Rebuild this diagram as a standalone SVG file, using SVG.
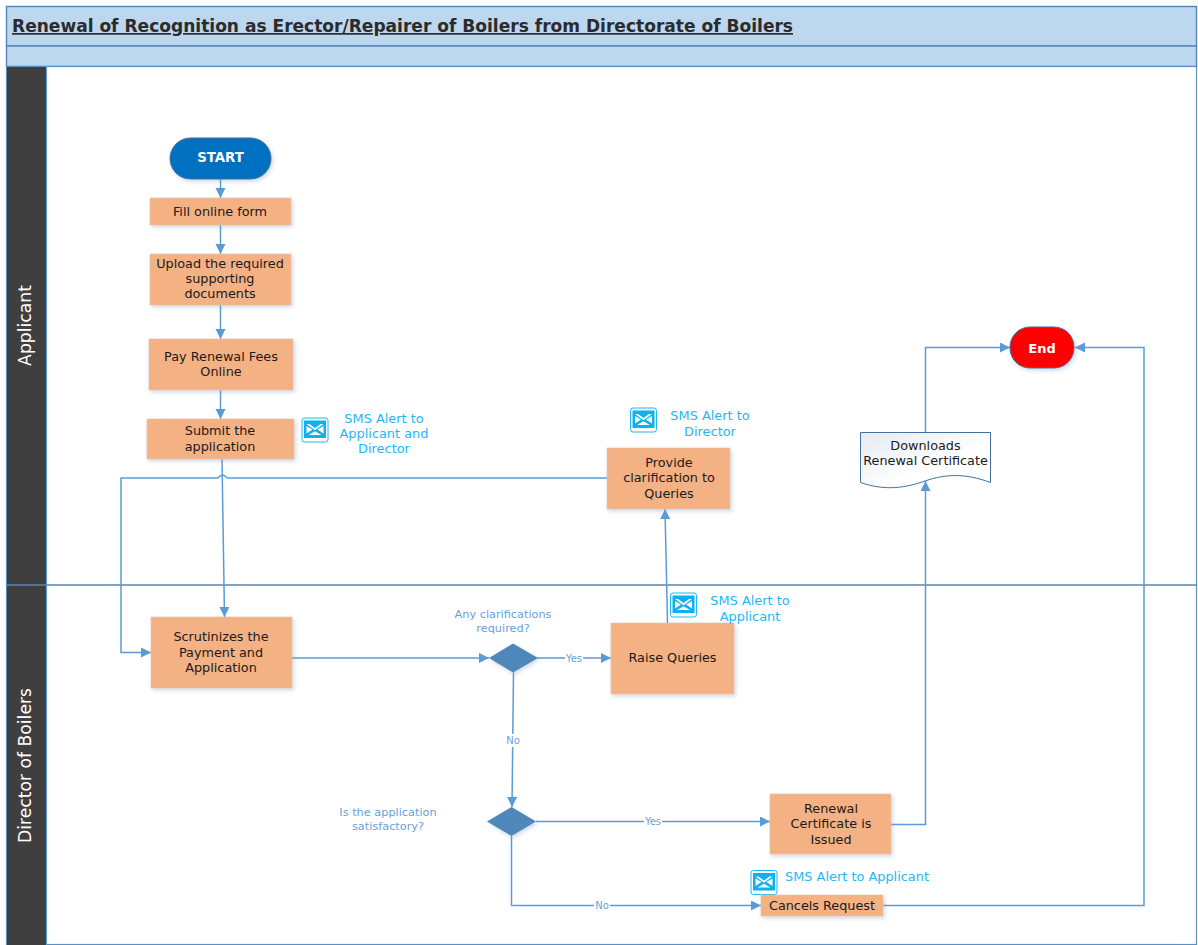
<svg xmlns="http://www.w3.org/2000/svg" width="1198" height="945" viewBox="0 0 1198 945">
<style>
text{font-family:"DejaVu Sans","Liberation Sans",sans-serif}
.t{font-size:12.8px;fill:#1a1a1a;text-anchor:middle}
.s{font-size:12.9px;fill:#1fb6f5;text-anchor:middle}
.q{font-size:11.3px;fill:#6a9fd8;text-anchor:middle}
.l{font-size:10px;fill:#6a9fd8;text-anchor:middle}
.b{fill:#f4b183;filter:url(#sh);stroke:#e8c4a8;stroke-width:.6}
.c{fill:none;stroke:#5b9bd5;stroke-width:1.5;marker-end:url(#a)}
.d{fill:#4f87bb;filter:url(#sh)}
.lane{fill:#fff;font-size:17.200px;text-anchor:middle}
</style>
<defs>
<marker id="a" markerUnits="userSpaceOnUse" markerWidth="11" markerHeight="11" refX="10" refY="5" orient="auto"><path d="M0 0L10 5L0 10Z" fill="#5b9bd5"/></marker>
<filter id="sh" x="-15%" y="-15%" width="135%" height="140%"><feDropShadow dx="1.500" dy="2" stdDeviation="2" flood-color="#7f9fc4" flood-opacity=".4"/></filter>
<linearGradient id="doc" x1="0" y1="0" x2="1" y2="1"><stop offset="0" stop-color="#e6e9ef"/><stop offset=".6" stop-color="#fff"/></linearGradient>
<g id="mail"><rect x="0.500" y="0.500" width="26" height="24" rx="2.500" fill="#fff" stroke="#1fb6f5"/><rect x="2.500" y="3" width="22" height="17.500" fill="#0fb0ee"/><path d="M5 6.500H8L13.500 10.500L19 6.500H22L13.500 12.800ZM5 8.500L11 12L5 16ZM22 8.500L16 12L22 16ZM7 17.500L13.500 13.800L20 17.500Z" fill="#fff"/></g>
</defs>
<rect width="1198" height="945" fill="#fff"/>
<g id="frame">
<rect x="6.500" y="6.500" width="1190" height="39.500" fill="#bdd7ee" stroke="#5686b5" stroke-width="1.400"/>
<rect x="6.500" y="46" width="1190" height="20.500" fill="#bdd7ee" stroke="#5686b5" stroke-width="1.400"/>
<rect x="6.500" y="66.500" width="1190" height="878" fill="#fff" stroke="#5b8fc2" stroke-width="1.200"/>
<rect x="7" y="67" width="39.500" height="878" fill="#3f3f3f"/>
<line x1="46.500" y1="66" x2="46.500" y2="945" stroke="#5b9bd5" stroke-width="1.200"/>
<line x1="7" y1="585" x2="1197" y2="585" stroke="#5d83ac" stroke-width="1.500"/>
<text x="12" y="32" font-size="17px" font-weight="700" fill="#2b2b2b" text-decoration="underline" textLength="781" lengthAdjust="spacingAndGlyphs">Renewal of Recognition as Erector/Repairer of Boilers from Directorate of Boilers</text>
<text class="lane" transform="translate(31 325.500) rotate(-90)">Applicant</text>
<text class="lane" transform="translate(31 765.500) rotate(-90)">Director of Boilers</text>
</g>
<g id="connectors">
<path class="c" d="M220.500 179V198"/>
<path class="c" d="M220.500 225V254"/>
<path class="c" d="M220.500 305V339"/>
<path class="c" d="M220.500 390V419"/>
<path class="c" d="M222 459L224.500 617"/>
<path class="c" d="M607 478H228C226 478 225.500 475 222.500 475C219.500 475 219 478 217 478H121V652.500H151"/>
<path class="c" d="M292 658H489"/>
<path class="c" d="M537 658H611"/>
<path class="c" d="M513.500 672.500L512 807"/>
<path class="c" d="M536 821.500H770"/>
<path class="c" d="M511.500 836V905.500H761"/>
<path class="c" d="M667.500 623L665 509"/>
<path class="c" d="M891 824.500H925.500V481"/>
<path class="c" d="M925.500 432V347.500H1010"/>
<path class="c" d="M883 905.500H1144V347.500H1075"/>
</g>
<g id="edge-labels">
<rect x="565" y="652" width="18" height="12" fill="#fff"/><text class="l" x="574" y="662">Yes</text>
<rect x="505" y="734" width="16" height="13" fill="#fff"/><text class="l" x="513" y="744">No</text>
<rect x="644" y="816" width="18" height="12" fill="#fff"/><text class="l" x="653" y="825">Yes</text>
<rect x="594" y="899" width="16" height="12" fill="#fff"/><text class="l" x="602" y="909">No</text>
</g>
<g id="start"><rect x="170" y="138" width="101" height="41" rx="20.500" fill="#0070c0" stroke="#41719c" filter="url(#sh)"/><text x="220.500" y="162" font-size="13.300px" font-weight="700" fill="#fff" text-anchor="middle">START</text></g>
<g id="fill-form"><rect class="b" x="150" y="198" width="141" height="27"/><text class="t" x="220" y="216">Fill online form</text></g>
<g id="upload"><rect class="b" x="150" y="254" width="141" height="51"/><text class="t" x="220" y="268">Upload the required</text><text class="t" x="220" y="283">supporting</text><text class="t" x="220" y="298">documents</text></g>
<g id="pay"><rect class="b" x="149" y="339" width="144" height="51"/><text class="t" x="221" y="361">Pay Renewal Fees</text><text class="t" x="221" y="376">Online</text></g>
<g id="submit"><rect class="b" x="147" y="419" width="147" height="40"/><text class="t" x="220" y="435">Submit the</text><text class="t" x="220" y="451">application</text></g>
<g id="sms1"><use href="#mail" x="301.500" y="417.500"/><text class="s" x="384" y="423">SMS Alert to</text><text class="s" x="384" y="438">Applicant and</text><text class="s" x="384" y="453">Director</text></g>
<g id="clarify"><rect class="b" x="607" y="448" width="123" height="61"/><text class="t" x="669" y="467">Provide</text><text class="t" x="669" y="482">clarification to</text><text class="t" x="669" y="498">Queries</text></g>
<g id="sms2"><use href="#mail" x="630" y="407.500"/><text class="s" x="710" y="420">SMS Alert to</text><text class="s" x="710" y="436">Director</text></g>
<g id="download"><path d="M860.500 432.500H990.500V482.500C965 473 945 474 925 481C905 488 885 491 860.500 482.500Z" fill="url(#doc)" stroke="#41719c" stroke-width="1"/><text class="t" x="925.500" y="450">Downloads</text><text class="t" x="925.500" y="465">Renewal Certificate</text></g>
<g id="end"><rect x="1010" y="327" width="64" height="41" rx="20" fill="#ff0000" stroke="#41719c" filter="url(#sh)"/><text x="1042" y="353" font-size="13px" font-weight="700" fill="#fff" text-anchor="middle">End</text></g>
<g id="scrutinize"><rect class="b" x="151" y="617" width="141" height="71"/><text class="t" x="221" y="641">Scrutinizes the</text><text class="t" x="221" y="657">Payment and</text><text class="t" x="221" y="672">Application</text></g>
<g id="q1"><polygon class="d" points="513,643.500 538,658 513,672.500 489,658"/><text class="q" x="503" y="618">Any clarifications</text><text class="q" x="503" y="632">required?</text></g>
<g id="raise"><rect class="b" x="611" y="623" width="123" height="71"/><text class="t" x="672.500" y="662">Raise Queries</text></g>
<g id="sms3"><use href="#mail" x="670" y="592.500"/><text class="s" x="750" y="605">SMS Alert to</text><text class="s" x="750" y="621">Applicant</text></g>
<g id="q2"><polygon class="d" points="511.500,807 536,821.500 511.500,836 487,821.500"/><text class="q" x="388" y="816">Is the application</text><text class="q" x="388" y="830">satisfactory?</text></g>
<g id="issued"><rect class="b" x="770" y="794" width="121" height="60"/><text class="t" x="831" y="813">Renewal</text><text class="t" x="831" y="828">Certificate is</text><text class="t" x="831" y="844">Issued</text></g>
<g id="sms4"><use href="#mail" x="750.500" y="870"/><text class="s" x="857" y="881">SMS Alert to Applicant</text></g>
<g id="cancel"><rect class="b" x="761" y="895" width="122" height="21"/><text class="t" x="822" y="910">Cancels Request</text></g>
</svg>
